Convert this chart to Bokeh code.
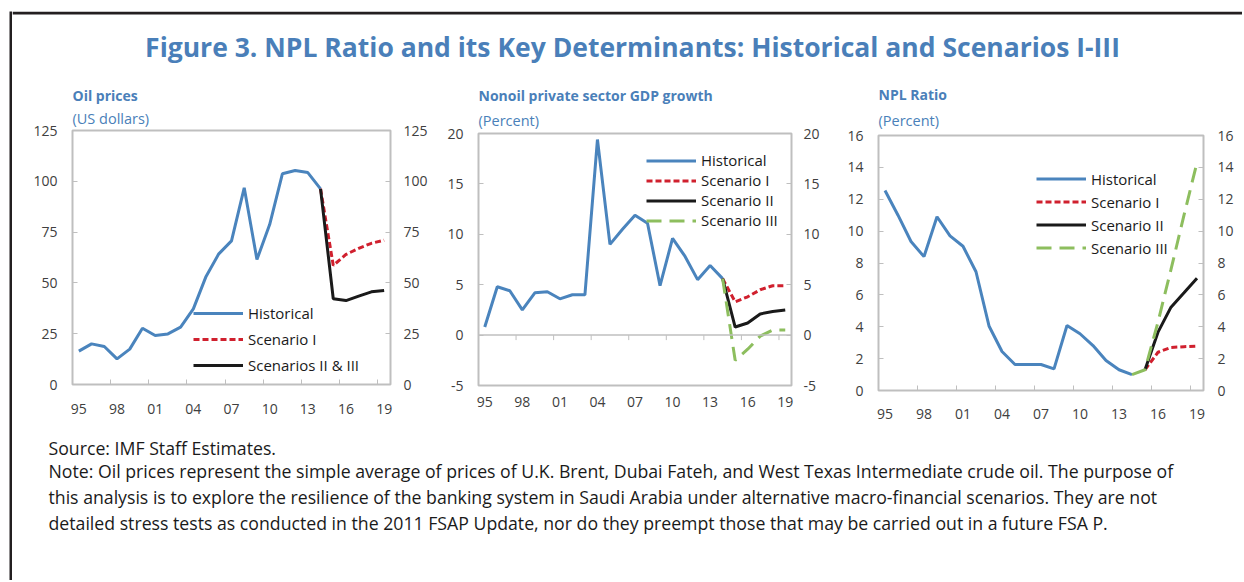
from bokeh.plotting import figure
from bokeh.models import (FixedTicker, LinearAxis, Range1d, Title,
                          Legend, LegendItem, Span, Spacer)
from bokeh.layouts import column, row
from bokeh.embed import file_html
from bokeh.resources import INLINE
from bokeh.core.properties import value

# ---------------- data ----------------
hist_years = list(range(1995, 2015))
scen_years = list(range(2014, 2020))
npl_scen_years = list(range(2015, 2020))
tick_years = [1995, 1998, 2001, 2004, 2007, 2010, 2013, 2016, 2019]
tick_labels = ["95", "98", "01", "04", "07", "10", "13", "16", "19"]

oil_hist = [16.4, 20.0, 18.7, 12.6, 17.4, 27.7, 24.1, 24.9, 28.2, 37.2,
            53.2, 64.3, 70.7, 96.8, 61.5, 78.7, 103.7, 105.3, 104.3, 96.3]
oil_s1 = [96.3, 58.6, 64.0, 67.0, 69.5, 71.0]
oil_s23 = [96.3, 42.2, 41.3, 43.5, 45.6, 46.3]

gdp_hist = [0.8, 4.8, 4.4, 2.5, 4.2, 4.3, 3.6, 4.0, 4.0, 19.4,
            9.0, 10.5, 11.9, 11.1, 4.9, 9.6, 7.8, 5.5, 6.9, 5.6]
gdp_s1 = [5.6, 3.3, 3.8, 4.5, 4.9, 4.9]
gdp_s2 = [5.6, 0.8, 1.2, 2.1, 2.35, 2.5]
gdp_s3 = [5.6, -2.5, -1.4, -0.1, 0.5, 0.5]

npl_hist = [12.55, 11.0, 9.35, 8.4, 10.9, 9.7, 9.05, 7.45, 4.05, 2.45,
            1.63, 1.63, 1.63, 1.36, 4.08, 3.56, 2.82, 1.88, 1.30, 1.0]
npl_s1 = [1.3, 2.4, 2.7, 2.75, 2.78]
npl_s2 = [1.3, 3.66, 5.23, 6.13, 7.05]
npl_s3 = [1.0, 1.3, 4.3, 7.6, 11.0, 14.3]

TITLE = "Figure 3. NPL Ratio and its Key Determinants: Historical and Scenarios I-III"
NOTES = [
    "Source: IMF Staff Estimates.",
    "Note: Oil prices represent the simple average of prices of U.K. Brent, Dubai Fateh, and West Texas Intermediate crude oil. The purpose of",
    "this analysis is to explore the resilience of the banking system in Saudi Arabia under alternative macro-financial scenarios. They are not",
    "detailed stress tests as conducted in the 2011  FSAP Update, nor do they preempt those that may be carried out in a future FSA P.",
]

# ---------------- styles ----------------
FONT = "Open Sans"
TEXT_BLUE = "#4A7FB9"
C_HIST = "#4A84BD"
C_S1 = "#D0202E"
C_S2 = "#1A1A1A"
C_S3 = "#8DBE5E"
FRAME = "#BFBFBF"
TICKTXT = "#404040"
BORDER = "#231F20"
LW = 3

boundaries = [y + 0.5 for y in range(1997, 2019, 3)]


def make_chart(width, height, bl, br, bt, bb, yr, ystep, title, unit, xstandoff,
               unit_standoff, rstandoff=13, frame_ticks=True):
    p = figure(width=width, height=height, x_range=Range1d(1994.5, 2019.5),
               y_range=Range1d(*yr), output_backend="svg", toolbar_location=None,
               title=None, min_border_left=bl, min_border_right=br,
               min_border_top=bt, min_border_bottom=bb, tools="")
    p.grid.visible = False
    p.outline_line_color = FRAME
    p.outline_line_width = 2
    p.border_fill_color = "white"
    p.background_fill_color = "white"

    yticks = list(range(yr[0], yr[1] + 1, ystep))
    yt = FixedTicker(ticks=yticks)
    yax = p.yaxis[0]
    yax.ticker = yt
    ax_r = LinearAxis(ticker=yt)
    p.add_layout(ax_r, "right")
    for ax, so in ((yax, 15), (ax_r, rstandoff)):
        ax.axis_line_color = None
        ax.major_tick_in = 5
        ax.major_tick_out = 0
        ax.major_tick_line_color = FRAME
        ax.major_tick_line_width = 1
        ax.minor_tick_line_color = None
        ax.major_label_text_font = FONT
        ax.major_label_text_font_size = "14px"
        ax.major_label_text_color = TICKTXT
        ax.major_label_standoff = so
        ax.major_label_overrides = {t: str(t) for t in yticks if t < 0}

    xax = p.xaxis[0]
    xax.ticker = FixedTicker(ticks=tick_years, minor_ticks=boundaries)
    xax.major_label_overrides = {y: l for y, l in zip(tick_years, tick_labels)}
    xax.axis_line_color = None
    xax.major_tick_line_color = None
    xax.minor_tick_in = 5
    xax.minor_tick_out = 0
    xax.minor_tick_line_color = FRAME if frame_ticks else None
    xax.major_label_text_font = FONT
    xax.major_label_text_font_size = "14px"
    xax.major_label_text_color = TICKTXT
    xax.major_label_standoff = xstandoff

    p.add_layout(Title(text=unit, text_font=FONT, text_font_size="14.5px",
                       text_font_style="normal", text_color=TEXT_BLUE, align="left",
                       standoff=unit_standoff), "above")
    p.add_layout(Title(text=title, text_font=FONT, text_font_size="14px",
                       text_font_style="bold", text_color=TEXT_BLUE, align="left",
                       standoff=0), "above")
    return p


def add_legend(p, items, loc, h):
    lg = Legend(items=items, location=loc, glyph_width=50, glyph_height=h,
                label_height=h, spacing=0, padding=0, margin=0,
                background_fill_alpha=0, border_line_color=None,
                label_standoff=5, label_text_font=FONT,
                label_text_font_size="15px", label_text_color="#1A1A1A")
    p.add_layout(lg, "center")


# ---------- Panel 1: oil prices ----------
p1 = make_chart(428, 359, 60, 50, 64, 41, (0, 125), 25, "Oil prices", "(US dollars)", 13, 5)
r1h = p1.line(hist_years, oil_hist, line_color=C_HIST, line_width=LW)
r1a = p1.line(scen_years, oil_s1, line_color=C_S1, line_width=LW, line_dash="6 3")
r1b = p1.line(scen_years, oil_s23, line_color=C_S2, line_width=LW)
add_legend(p1, [LegendItem(label="Historical", renderers=[r1h]),
                LegendItem(label="Scenario I", renderers=[r1a]),
                LegendItem(label="Scenarios II & III", renderers=[r1b])], (121, 6), 26)

# ---------- Panel 2: nonoil GDP growth ----------
p2 = make_chart(390, 358, 38, 39, 66, 40, (-5, 20), 5,
                "Nonoil private sector GDP growth", "(Percent)", 5, 8,
                rstandoff=12, frame_ticks=False)
p2.add_layout(Span(location=0, dimension="width", line_color=FRAME, line_width=1.5))
tick_len = 5 * 25 / 252
p2.segment(x0=boundaries, y0=[0] * len(boundaries), x1=boundaries,
           y1=[-tick_len] * len(boundaries), line_color=FRAME, line_width=1)
r2h = p2.line(hist_years, gdp_hist, line_color=C_HIST, line_width=LW)
r2a = p2.line(scen_years, gdp_s1, line_color=C_S1, line_width=LW, line_dash="6 3")
r2b = p2.line(scen_years, gdp_s2, line_color=C_S2, line_width=LW)
r2c = p2.line(scen_years, gdp_s3, line_color=C_S3, line_width=LW, line_dash="15 8")
add_legend(p2, [LegendItem(label="Historical", renderers=[r2h]),
                LegendItem(label="Scenario I", renderers=[r2a]),
                LegendItem(label="Scenario II", renderers=[r2b]),
                LegendItem(label="Scenario III", renderers=[r2c])], (168, 155), 19)

# ---------- Panel 3: NPL ratio ----------
p3 = make_chart(406, 358, 48, 31, 68, 35, (0, 16), 2, "NPL Ratio", "(Percent)", 12, 11,
                rstandoff=14)
r3h = p3.line(hist_years, npl_hist, line_color=C_HIST, line_width=LW)
r3a = p3.line(npl_scen_years, npl_s1, line_color=C_S1, line_width=LW, line_dash="6 3")
r3b = p3.line(npl_scen_years, npl_s2, line_color=C_S2, line_width=LW)
r3c = p3.line(scen_years, npl_s3, line_color=C_S3, line_width=LW, line_dash="15 8")
add_legend(p3, [LegendItem(label="Historical", renderers=[r3h]),
                LegendItem(label="Scenario I", renderers=[r3a]),
                LegendItem(label="Scenario II", renderers=[r3b]),
                LegendItem(label="Scenario III", renderers=[r3c])], (158, 131), 23)


def blank_fig(w, h, fill="white"):
    f = figure(width=w, height=h, x_range=Range1d(0, w), y_range=Range1d(h, 0),
               output_backend="svg", toolbar_location=None, title=None, tools="",
               min_border=0)
    f.axis.visible = False
    f.grid.visible = False
    f.outline_line_color = None
    f.background_fill_color = fill
    f.border_fill_color = fill
    return f


TF_H = 55
NF_H = 155
TF_W = 1230
tf = blank_fig(TF_W, TF_H)
tf.quad(left=[0], right=[TF_W], top=[0], bottom=[3], fill_color=BORDER, line_color=None)
tf.text(x=[620], y=[35.5], text=[TITLE], text_align="center", text_baseline="middle",
        text_font=value(FONT), text_font_style="bold", text_font_size="26.5px",
        text_color=TEXT_BLUE)

nf = blank_fig(1224, NF_H)
nf.text(x=[36] * 4, y=[22, 45, 71, 97], text=NOTES, text_align="left",
        text_baseline="middle", text_font=value(FONT), text_font_size="17.7px",
        text_color="#1A1A1A")

left_bar = blank_fig(3, TF_H + 359 + NF_H, fill=BORDER)

charts = row(column(p1), column(Spacer(width=390, height=1), p2),
             column(Spacer(width=406, height=1), p3))
layout = row(left_bar, column(tf, charts, nf), margin=(11, 0, 0, 9))

open("out.html", "w").write(file_html(layout, INLINE))
